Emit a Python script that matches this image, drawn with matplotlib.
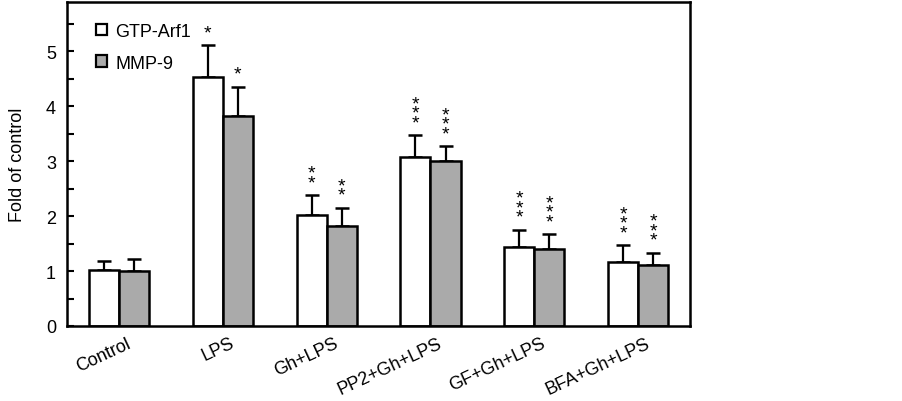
import matplotlib
matplotlib.use("Agg")
import matplotlib.pyplot as plt
from matplotlib.patches import Patch
from matplotlib.transforms import ScaledTranslation
import numpy as np

plt.rcParams['font.family'] = ['Liberation Sans', 'DejaVu Sans']

categories = ["Control", "LPS", "Gh+LPS", "PP2+Gh+LPS", "GF+Gh+LPS", "BFA+Gh+LPS"]
series_names = ["GTP-Arf1", "MMP-9"]
arf1 = [1.02, 4.53, 2.02, 3.07, 1.44, 1.16]
arf1_err = [0.16, 0.58, 0.36, 0.40, 0.31, 0.31]
mmp9 = [1.00, 3.82, 1.82, 3.00, 1.40, 1.11]
mmp9_err = [0.22, 0.53, 0.33, 0.27, 0.27, 0.22]
arf1_sig = ["", "*", "**", "***", "***", "***"]
mmp9_sig = ["", "*", "**", "***", "***", "***"]

fig = plt.figure(figsize=(9.03, 4.02), dpi=100)
ax = fig.add_axes([0.0742, 0.1866, 0.69, 0.806])

x = np.arange(len(categories))
w = 0.29
gray = "#aaaaaa"
lw = 1.8

ax.bar(x - w/2, arf1, w, color="white", edgecolor="black", linewidth=lw, zorder=2)
ax.bar(x + w/2, mmp9, w, color=gray, edgecolor="black", linewidth=lw, zorder=2)
ax.errorbar(x - w/2, arf1, yerr=[np.zeros(len(arf1)), arf1_err], fmt="none",
            ecolor="black", elinewidth=1.6, capsize=5, capthick=1.8, zorder=1)
ax.errorbar(x + w/2, mmp9, yerr=[np.zeros(len(mmp9)), mmp9_err], fmt="none",
            ecolor="black", elinewidth=1.6, capsize=5, capthick=1.8, zorder=1)

def stars(xs, vals, errs, sigs):
    for xi, v, e, s in zip(xs, vals, errs, sigs):
        if not s:
            continue
        ax.annotate("\n".join(s), (xi, v + e), xytext=(0, 3), textcoords="offset points",
                    ha="center", va="bottom", fontsize=14, linespacing=0.42)

stars(x - w/2, arf1, arf1_err, arf1_sig)
stars(x + w/2, mmp9, mmp9_err, mmp9_sig)

ax.set_xlim(-0.5, 5.5)
ax.set_ylim(0, 5.9)
ax.set_yticks(range(0, 6))
ax.set_yticks(np.arange(0.5, 6, 1.0), minor=True)
ax.tick_params(axis="y", which="both", direction="in", length=5, width=1.5, labelsize=13, pad=8)
ax.set_xticks(x)
ax.set_xticklabels(categories, rotation=25, ha="right", rotation_mode="anchor", fontsize=13)
ax.tick_params(axis="x", length=0, pad=6)
shift = ScaledTranslation(5 / 72, 0, fig.dpi_scale_trans)
for lab in ax.get_xticklabels():
    lab.set_transform(lab.get_transform() + shift)
for sp in ax.spines.values():
    sp.set_linewidth(1.8)
ax.set_ylabel("Fold of control", fontsize=13, labelpad=14)

handles = [Patch(facecolor="white", edgecolor="black", linewidth=1.6),
           Patch(facecolor=gray, edgecolor="black", linewidth=1.6)]
ax.legend(handles, series_names, loc="upper left", bbox_to_anchor=(0.02, 0.985),
          frameon=False, fontsize=13, handlelength=0.6, handleheight=0.6,
          handletextpad=0.5, labelspacing=0.8)

fig.savefig("out.png", dpi=100)
